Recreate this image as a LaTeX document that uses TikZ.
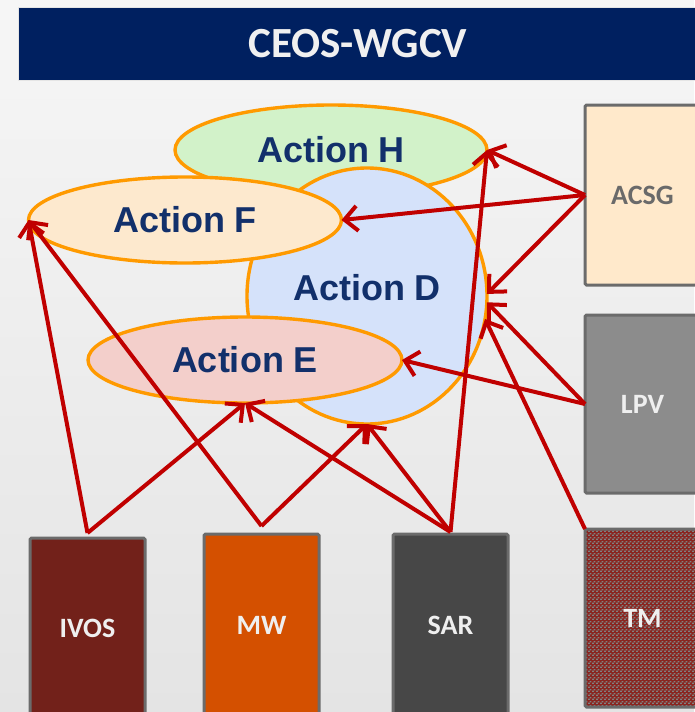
\documentclass[tikz,border=0pt]{standalone}
\usepackage{fontspec}
\setmainfont{Liberation Sans}
\newfontfamily\boxfont{Carlito}
\usetikzlibrary{arrows.meta,shapes.geometric,patterns.meta}

\definecolor{bgtop}{HTML}{F6F6F6}
\definecolor{bgbot}{HTML}{E4E4E4}
\definecolor{navy}{HTML}{002060}
\definecolor{titletext}{HTML}{F0F0F0}
\definecolor{labelblue}{HTML}{12306B}
\definecolor{ringorange}{HTML}{FF9A00}
\definecolor{linkred}{HTML}{C00000}
\definecolor{fillH}{HTML}{D2F2C9}
\definecolor{fillF}{HTML}{FDE9CE}
\definecolor{fillD}{HTML}{D5E2FA}
\definecolor{fillE}{HTML}{F3CFCB}
\definecolor{frame}{HTML}{6B6B6B}
\definecolor{acsgfill}{HTML}{FFE9CB}
\definecolor{acsgtext}{HTML}{6A6A6A}
\definecolor{lpvfill}{HTML}{8C8C8C}
\definecolor{tmred}{HTML}{8A2520}
\definecolor{tmdots}{HTML}{808080}
\definecolor{ivosfill}{HTML}{72211A}
\definecolor{mwfill}{HTML}{D45000}
\definecolor{sarfill}{HTML}{474747}
\definecolor{lighttext}{HTML}{EFEFEF}

% small woven texture for the TM box
\tikzdeclarepattern{
  name=weave, type=uncolored,
  bottom left={(0pt,0pt)}, top right={(4pt,4pt)}, tile size={(4pt,4pt)},
  code={
    \fill (0pt,0pt) rectangle (2.2pt,1.6pt);
    \fill (2pt,2pt) rectangle (4.2pt,3.6pt);
  }
}

\tikzset{
  banner/.style={rectangle, fill=navy, draw=white!80!gray, line width=0.6pt,
    minimum width=680pt, minimum height=73pt, inner sep=0pt,
    text=titletext, font=\boxfont\bfseries\fontsize{43}{43}\selectfont},
  action/.style={ellipse, draw=ringorange, line width=3.4pt, inner sep=0pt, outer sep=0pt,
    text=labelblue, font=\bfseries\fontsize{36}{36}\selectfont},
  actiontext/.style={text=labelblue, font=\bfseries\fontsize{36}{36}\selectfont, inner sep=0pt},
  unit/.style={rectangle, draw=frame, line width=3pt, rounded corners=1.5pt,
    minimum width=115pt, minimum height=178pt, inner sep=0pt, outer sep=0pt,
    text=lighttext, font=\boxfont\bfseries\fontsize{28}{28}\selectfont},
  link/.style={draw=linkred, line width=4pt,
    -{Straight Barb[length=13pt,width=25pt]}}
}

\begin{document}
\begin{tikzpicture}[x=1pt,y=-1pt]
  \useasboundingbox (0,0) rectangle (694,712);
  \shade[top color=bgtop, bottom color=bgbot] (0,0) rectangle (694,712);

  % heading bar
  \node[banner] (title) at (358,43.5) {CEOS-WGCV};

  % overlapping action ellipses, back to front
  \node[action, fill=fillH, minimum width=312pt, minimum height=90pt] (H) at (331,150) {Action H};
  \node[action, fill=fillD, minimum width=240pt, minimum height=256pt,
        label={[actiontext, yshift=8pt]center:Action D}] (D) at (367,296) {};
  \node[action, fill=fillF, minimum width=313pt, minimum height=86pt] (F) at (185,220) {Action F};
  \node[action, fill=fillE, minimum width=314pt, minimum height=86pt] (E) at (245,360) {Action E};

  % groups on the right
  \node[unit, fill=acsgfill, minimum height=180pt, text=acsgtext] (ACSG) at (642.5,195) {ACSG};
  \node[unit, fill=lpvfill] (LPV) at (642.5,404) {LPV};
  \node[unit, preaction={fill=tmred}, pattern=weave, pattern color=tmdots] (TM) at (642.5,618) {TM};

  % groups along the bottom
  \node[unit, fill=ivosfill, minimum height=180pt] (IVOS) at (87.5,628) {IVOS};
  \node[unit, fill=mwfill, minimum height=182pt] (MW) at (261.5,625) {MW};
  \node[unit, fill=sarfill, minimum height=182pt] (SAR) at (450.5,625) {SAR};

  % links from groups to actions
  \draw[link] ([yshift=5pt]IVOS.north) -- (F.west);
  \draw[link] ([yshift=5pt]IVOS.north) -- (E.south);
  \draw[link] ([yshift=8pt]MW.north) -- (F.west);
  \draw[link] ([yshift=8pt]MW.north) -- (D.south);
  \draw[link] ([yshift=2pt]SAR.north) -- (E.south);
  \draw[link] ([yshift=2pt]SAR.north) -- (D.south);
  \draw[link] ([yshift=2pt]SAR.north) -- (H.east);
  \draw[link] (ACSG.west) -- (H.east);
  \draw[link] (ACSG.west) -- (F.east);
  \draw[link] (ACSG.west) -- (D.1.5);
  \draw[link] (LPV.west) -- (E.east);
  \draw[link] (LPV.west) -- (D.-3);
  \draw[link] (TM.north west) -- (D.-11);
\end{tikzpicture}
\end{document}
